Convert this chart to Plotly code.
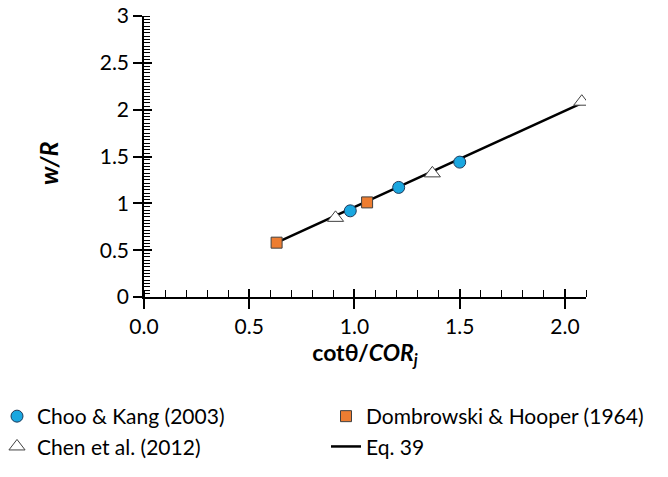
import plotly.graph_objects as go

# data
choo_x = [0.98, 1.21, 1.50]
choo_y = [0.92, 1.17, 1.44]
domb_x = [0.63, 1.06]
domb_y = [0.58, 1.01]
chen_x = [0.91, 1.37, 2.08]
chen_y = [0.845, 1.32, 2.085]
eq_x = [0.63, 2.08]
eq_y = [0.58, 2.07]

x_range = [0, 2.1]
y_range = [0, 3]

FONT = "Lato"
L, R, T, B = 144, 82, 16, 180
W, H = 668, 477
PW, PH = W - L - R, H - T - B


def px_x(p):
    return (p - L) / PW


def px_y(p):
    return (H - B - p) / PH


fig = go.Figure()
fig.add_trace(go.Scatter(x=eq_x, y=eq_y, mode="lines", name="Eq. 39", legend="legend2",
                         legendrank=2, line=dict(color="black", width=2.5)))
fig.add_trace(go.Scatter(x=choo_x, y=choo_y, mode="markers", name="Choo & Kang (2003)",
                         legend="legend", legendrank=1,
                         marker=dict(symbol="circle", size=12, color="#1AA7E0",
                                     line=dict(color="#1F3A5A", width=1))))
fig.add_trace(go.Scatter(x=domb_x, y=domb_y, mode="markers", name="Dombrowski & Hooper (1964)",
                         legend="legend2", legendrank=1,
                         marker=dict(symbol="square", size=11, color="#ED7D31",
                                     line=dict(color="#404040", width=1))))
fig.add_trace(go.Scatter(x=chen_x, y=chen_y, mode="markers", name="Chen et al. (2012)",
                         legend="legend", legendrank=2,
                         marker=dict(symbol="triangle-up", size=14, color="white",
                                     line=dict(color="#404040", width=1))))
# invisible trace to activate overlay axes (inside halves of crossing major ticks)
fig.add_trace(go.Scatter(x=eq_x, y=eq_y, mode="lines", xaxis="x2", yaxis="y2",
                         showlegend=False, hoverinfo="skip", line=dict(width=0),
                         opacity=0))

legend_font = dict(family=FONT, size=21, color="black")

fig.update_layout(
    width=W, height=H,
    margin=dict(l=L, r=R, t=T, b=B, autoexpand=False),
    plot_bgcolor="white", paper_bgcolor="white",
    font=dict(family=FONT, color="black"),
    showlegend=True,
    legend=dict(x=px_x(-3), y=px_y(396), xanchor="left", yanchor="top",
                font=legend_font, itemwidth=30, tracegroupgap=0,
                bgcolor="rgba(0,0,0,0)"),
    legend2=dict(x=px_x(326), y=px_y(396), xanchor="left", yanchor="top",
                 font=legend_font, itemwidth=30, tracegroupgap=0,
                 bgcolor="rgba(0,0,0,0)"),
    xaxis=dict(range=x_range, tick0=0, dtick=0.5, tickformat=".1f",
               showgrid=False, zeroline=False, showline=True, linecolor="black", linewidth=1.5,
               ticks="outside", ticklen=10, tickwidth=1.5, tickcolor="black",
               tickfont=dict(family=FONT, size=21, color="black"),
               minor=dict(dtick=0.1, tick0=0, ticks="inside", ticklen=7, tickwidth=1.2,
                          tickcolor="black", showgrid=False),
               title=dict(text="<b>cotθ/<i>COR<sub>j</sub></i></b>",
                          font=dict(family=FONT, size=23, color="black"), standoff=6)),
    yaxis=dict(range=y_range, tick0=0, dtick=0.5,
               showgrid=False, zeroline=False, showline=True, linecolor="black", linewidth=1.5,
               ticks="outside", ticklen=9, tickwidth=1.5, tickcolor="black",
               tickfont=dict(family=FONT, size=21, color="black"),
               minor=dict(dtick=0.5 / 14, tick0=0, ticks="inside", ticklen=6, tickwidth=1.2,
                          tickcolor="black", showgrid=False)),
    xaxis2=dict(range=x_range, tick0=0, dtick=0.5, overlaying="x", showticklabels=False,
                showgrid=False, zeroline=False, showline=False,
                ticks="inside", ticklen=8, tickwidth=1.5, tickcolor="black", side="bottom"),
    yaxis2=dict(range=y_range, tick0=0, dtick=0.5, overlaying="y", showticklabels=False,
                showgrid=False, zeroline=False, showline=False,
                ticks="inside", ticklen=8, tickwidth=1.5, tickcolor="black", side="left"),
    annotations=[dict(text="<b><i>w/R</i></b>", textangle=-90, showarrow=False,
                      xref="paper", yref="paper", x=px_x(48), y=px_y(163),
                      xanchor="center", yanchor="middle",
                      font=dict(family=FONT, size=25, color="black"))],
)

fig.write_html("out.html", config={"displayModeBar": False},
               post_script="document.body.style.margin='0';")
